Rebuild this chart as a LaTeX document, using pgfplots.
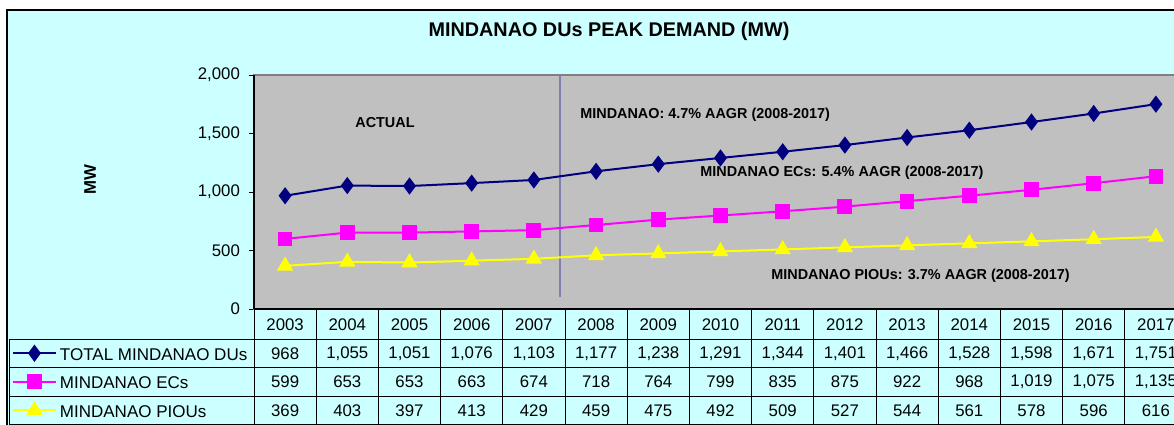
\documentclass[border=0pt]{standalone}
\usepackage{fontspec}
\setmainfont{Liberation Sans}
\usepackage{pgfplots}
\pgfplotsset{compat=1.18}
\definecolor{bgcyan}{HTML}{CCFFFF}
\definecolor{plotgray}{HTML}{C0C0C0}
\definecolor{navyc}{HTML}{000080}
\definecolor{magc}{HTML}{FF00FF}
\definecolor{yelc}{HTML}{FFFF00}
\definecolor{vlinec}{RGB}{128,128,176}
\newcommand{\tf}{\fontsize{8.4}{10}\selectfont}
\newcommand{\lf}{\fontsize{8.5}{10}\selectfont}
\begin{document}
\begin{tikzpicture}
\useasboundingbox (0,0) rectangle (587pt,-212pt);
\clip (0,0) rectangle (587pt,-212pt);
\begin{scope}[x=0.5pt,y=-0.5pt]
\fill[white] (0,0) rectangle (1174,424);
\filldraw[fill=bgcyan,draw=black,line width=0.6pt] (7,10) rectangle (1210,450);
\end{scope}
\begin{axis}[
  at={(127pt,-154.5pt)}, anchor=south west,
  scale only axis, width=466.5pt, height=117pt,
  xmin=-0.5, xmax=14.5, ymin=0, ymax=2000,
  ytick={0,500,1000,1500,2000}, xtick=\empty,
  ytick pos=left, tick align=outside, major tick length=2.5pt,
  tick style={black, line width=0.5pt},
  scaled y ticks=false,
  yticklabel style={font=\tf, /pgf/number format/assume math mode=true, /pgf/number format/1000 sep={,}, xshift=-1pt},
  axis background/.style={fill=plotgray},
  axis line style={draw=gray, line width=0.6pt},
  clip=false,
  legend cell align=left,
  legend style={at={(-0.2594,-0.1282)}, anchor=north west, draw=none, fill=none,
    inner sep=0pt, outer sep=0pt, row sep=0pt, column sep=1.5pt, font=\lf,
    nodes={font=\lf, inner sep=0pt, text height=10.5pt, text depth=3.75pt}},
  legend image code/.code={\draw[mark repeat=2,mark phase=2,#1] plot coordinates {(0pt,0pt)(10.75pt,0pt)(21.5pt,0pt)};},
]
\draw[black, line width=0.6pt] (rel axis cs:0,0) -- (rel axis cs:0,1);
\draw[black, line width=0.6pt] (rel axis cs:0,0) -- (rel axis cs:1,0);
\draw[vlinec, line width=0.7pt] (axis cs:4.42,100) -- (axis cs:4.42,2000);
\addplot[navyc, line width=1pt, mark=diamond*, mark size=3.5pt, mark options={solid, fill=navyc}] coordinates {
(0,968) (1,1055) (2,1051) (3,1076) (4,1103) (5,1177) (6,1238) (7,1291) (8,1344) (9,1401) (10,1466) (11,1528) (12,1598) (13,1671) (14,1751)};
\addlegendentry{TOTAL MINDANAO DUs}
\addplot[magc, line width=1pt, mark=square*, mark size=3.2pt, mark options={solid, fill=magc}] coordinates {
(0,599) (1,653) (2,653) (3,663) (4,674) (5,718) (6,764) (7,799) (8,835) (9,875) (10,922) (11,968) (12,1019) (13,1075) (14,1135)};
\addlegendentry{MINDANAO ECs}
\addplot[yelc, line width=1pt, mark=triangle*, mark size=3.7pt, mark options={solid, fill=yelc}] coordinates {
(0,369) (1,403) (2,397) (3,413) (4,429) (5,459) (6,475) (7,492) (8,509) (9,527) (10,544) (11,561) (12,578) (13,596) (14,616)};
\addlegendentry{MINDANAO PIOUs}
\end{axis}
\begin{scope}[x=0.5pt,y=-0.5pt]
% title and labels
\node[font=\fontsize{9.9}{12}\selectfont\bfseries] at (609,31) {MINDANAO DUs PEAK DEMAND (MW)};
\node[font=\tf\bfseries, rotate=90] at (90,180) {MW};
\node[font=\fontsize{7.2}{8.5}\selectfont\bfseries] at (385,123) {ACTUAL};
\node[font=\fontsize{7.2}{8.5}\selectfont\bfseries, anchor=west, inner sep=0pt] at (580,115) {MINDANAO: 4.7\% AAGR (2008-2017)};
\node[font=\fontsize{7.2}{8.5}\selectfont\bfseries, anchor=west, inner sep=0pt] at (700,173) {MINDANAO ECs: 5.4\% AAGR (2008-2017)};
\node[font=\fontsize{7.2}{8.5}\selectfont\bfseries, anchor=west, inner sep=0pt] at (771,276) {MINDANAO PIOUs: 3.7\% AAGR (2008-2017)};
% table grid
\foreach \k in {0,...,15} \draw[black, line width=0.5pt] (254+62.2*\k,309) -- (254+62.2*\k,440);
\foreach \yy in {339,367,396,424} \draw[black, line width=0.5pt] (9,\yy) -- (1200,\yy);
\draw[black, line width=0.5pt] (9,339) -- (9,440);
% table text
\foreach \v [count=\i from 0] in {2003,2004,2005,2006,2007,2008,2009,2010,2011,2012,2013,2014,2015,2016,2017}
  \node[font=\tf] at (285.1+62.2*\i,325) {\v};
\foreach \v [count=\i from 0] in {968,{1,055},{1,051},{1,076},{1,103},{1,177},{1,238},{1,291},{1,344},{1,401},{1,466},{1,528},{1,598},{1,671},{1,751}}
  \node[font=\tf] at (285.1+62.2*\i,354) {\v};
\foreach \v [count=\i from 0] in {599,653,653,663,674,718,764,799,835,875,922,968,{1,019},{1,075},{1,135}}
  \node[font=\tf] at (285.1+62.2*\i,382) {\v};
\foreach \v [count=\i from 0] in {369,403,397,413,429,459,475,492,509,527,544,561,578,596,616}
  \node[font=\tf] at (285.1+62.2*\i,411) {\v};
\end{scope}
\end{tikzpicture}
\end{document}
